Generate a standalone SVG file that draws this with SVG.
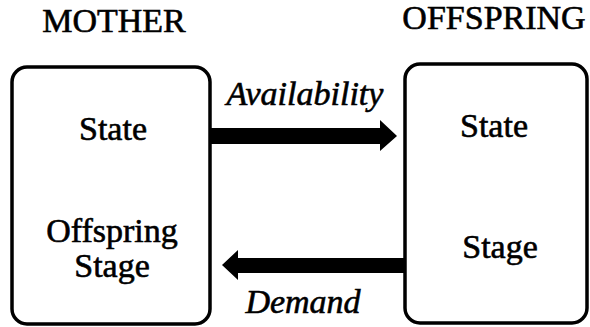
<svg xmlns="http://www.w3.org/2000/svg" width="590" height="327" viewBox="0 0 590 327">
<style>
.box{fill:#fff;stroke:#000;stroke-width:3.5}
.t{font-family:"Liberation Serif","Times New Roman",serif;font-size:34px;fill:#000;stroke:#000;stroke-width:0.6;text-anchor:middle}
.i{font-style:italic}
.arr{fill:#000}
</style>
<rect width="590" height="327" fill="#fff"/>
<text class="t" x="114" y="32">MOTHER</text>
<text class="t" x="494" y="29">OFFSPRING</text>
<g id="mother">
<rect class="box" x="12" y="67" width="198" height="257" rx="15"/>
<text class="t" x="113" y="140">State</text>
<text class="t" x="112" y="242">Offspring</text>
<text class="t" x="112" y="277">Stage</text>
</g>
<g id="offspring">
<rect class="box" x="405" y="64" width="182" height="259" rx="15"/>
<text class="t" x="494" y="137">State</text>
<text class="t" x="500" y="258">Stage</text>
</g>
<g id="connectors">
<polygon class="arr" points="211,128 380,128 380,120 397,136 380,151 380,144 211,144"/>
<polygon class="arr" points="404,258 238,258 238,250 222,265 238,280 238,273 404,273"/>
<text class="t i" x="305" y="105">Availability</text>
<text class="t i" x="303" y="313">Demand</text>
</g>
</svg>
